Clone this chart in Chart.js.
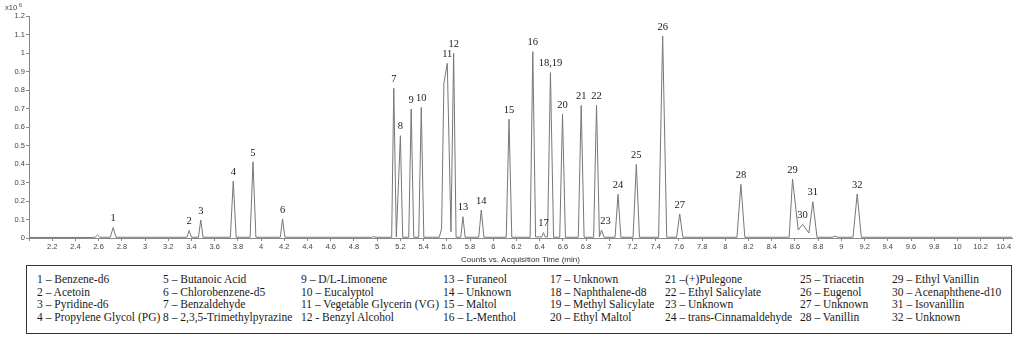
<!DOCTYPE html>
<html lang="en">
<head>
    <meta charset="UTF-8">
    <title>Chromatogram</title>
    <style>
        body { margin: 0; background: #fff; }
        .page { position: relative; width: 1024px; height: 337px; overflow: hidden; }
        .chart-box { position: absolute; left: 0; top: 0; width: 1024px; height: 265px; }
        .legend-frame {
            position: absolute;
            left: 26px; top: 265px;
            width: 986px; height: 69px;
            box-sizing: border-box;
            border: 1.5px solid #333;
        }
        .legend-item {
            position: absolute;
            font-family: 'Liberation Serif', serif;
            font-size: 11.5px;
            line-height: 12.6px;
            color: #1a1a1a;
            white-space: nowrap;
        }
    </style>
</head>
<body>

<div class="page">
    <div class="chart-box"><canvas id="chrom"></canvas></div>
    <div class="legend-frame"></div>
    <div id="legend"></div>
</div>

<script src="https://cdn.jsdelivr.net/npm/chart.js"></script>
<script>
    // trace: time (min) and counts (x10^6)
    const traceTime = [
        2.00, 2.55, 2.57, 2.59, 2.61,
        2.70, 2.725, 2.75,
        3.36, 3.38, 3.40,
        3.46, 3.48, 3.50,
        3.735, 3.76, 3.785,
        3.905, 3.93, 3.955,
        4.165, 4.185, 4.205,
        4.95, 4.97, 4.99,
        5.125, 5.143, 5.165,
        5.20, 5.22,
        5.272, 5.293, 5.315,
        5.358, 5.38, 5.402,
        5.535, 5.555, 5.575, 5.604, 5.636,
        5.659, 5.68,
        5.72, 5.739, 5.758,
        5.875, 5.897, 5.92,
        6.112, 6.136, 6.16,
        6.318, 6.341, 6.365,
        6.418, 6.433, 6.448,
        6.468, 6.493, 6.52,
        6.573, 6.597, 6.622,
        6.733, 6.758, 6.783,
        6.865, 6.89, 6.915,
        6.933, 6.955,
        7.05, 7.075, 7.10,
        7.205, 7.233, 7.26,
        7.425, 7.46, 7.495,
        7.58, 7.607, 7.634,
        8.10, 8.134, 8.168,
        8.55, 8.579, 8.628,
        8.665, 8.72,
        8.754, 8.79,
        8.92, 8.946, 8.97,
        9.10, 9.136, 9.172,
        10.47
    ];
    const traceCounts = [
        0.003, 0.003, 0.004, 0.016, 0.004,
        0.004, 0.056, 0.004,
        0.004, 0.040, 0.004,
        0.004, 0.097, 0.004,
        0.004, 0.308, 0.004,
        0.004, 0.412, 0.004,
        0.004, 0.103, 0.004,
        0.004, 0.008, 0.004,
        0.004, 0.809, 0.006,
        0.553, 0.004,
        0.004, 0.697, 0.004,
        0.004, 0.706, 0.004,
        0.004, 0.050, 0.836, 0.944, 0.034,
        0.998, 0.004,
        0.004, 0.115, 0.004,
        0.004, 0.151, 0.004,
        0.004, 0.642, 0.004,
        0.004, 1.007, 0.006,
        0.006, 0.029, 0.006,
        0.006, 0.894, 0.004,
        0.004, 0.670, 0.004,
        0.004, 0.717, 0.004,
        0.004, 0.717, 0.006,
        0.043, 0.004,
        0.004, 0.236, 0.004,
        0.004, 0.398, 0.004,
        0.004, 1.092, 0.004,
        0.004, 0.130, 0.004,
        0.004, 0.290, 0.004,
        0.004, 0.319, 0.043,
        0.074, 0.027,
        0.196, 0.004,
        0.004, 0.010, 0.004,
        0.004, 0.238, 0.004,
        0.004
    ];

    // peak numbers and where their apex sits
    const peakLabels = ['1', '2', '3', '4', '5', '6', '7', '8', '9', '10', '11', '12', '13', '14', '15', '16',
        '17', '18,19', '20', '21', '22', '23', '24', '25', '26', '27', '28', '29', '30', '31', '32'];
    const peakTimes = [2.725, 3.38, 3.48, 3.76, 3.93, 4.185, 5.143, 5.20, 5.293, 5.38, 5.604, 5.659, 5.739, 5.897, 6.136, 6.341,
        6.433, 6.493, 6.597, 6.758, 6.89, 6.933, 7.075, 7.233, 7.46, 7.607, 8.134, 8.579, 8.665, 8.754, 9.136];
    const peakHeights = [0.056, 0.040, 0.097, 0.308, 0.412, 0.103, 0.809, 0.553, 0.697, 0.706, 0.944, 0.998, 0.115, 0.151, 0.642, 1.007,
        0.029, 0.894, 0.670, 0.717, 0.717, 0.043, 0.236, 0.398, 1.092, 0.130, 0.290, 0.319, 0.074, 0.196, 0.238];

    const legendNames = [
        '1 – Benzene-d6', '2 – Acetoin', '3 – Pyridine-d6', '4 – Propylene Glycol (PG)',
        '5 – Butanoic Acid', '6 – Chlorobenzene-d5', '7 – Benzaldehyde', '8 – 2,3,5-Trimethylpyrazine',
        '9 – D/L-Limonene', '10 – Eucalyptol', '11 – Vegetable Glycerin (VG)', '12 - Benzyl Alcohol',
        '13 – Furaneol', '14 – Unknown', '15 – Maltol', '16 – L-Menthol',
        '17 – Unknown', '18 – Naphthalene-d8', '19 – Methyl Salicylate', '20 – Ethyl Maltol',
        '21 –(+)Pulegone', '22 – Ethyl Salicylate', '23 – Unknown', '24 – trans-Cinnamaldehyde',
        '25 – Triacetin', '26 – Eugenol', '27 – Unknown', '28 – Vanillin',
        '29 – Ethyl Vanillin', '30 – Acenaphthene-d10', '31 – Isovanillin', '32 – Unknown'
    ];

    const legendColX = [37, 163, 301, 443, 550, 665, 800, 892];
    const legendRowY = [273, 285.5, 298, 310.5];

    // legend table below the plot
    const legendEl = document.getElementById('legend');
    legendNames.forEach((name, i) => {
        const span = document.createElement('div');
        span.className = 'legend-item';
        span.textContent = name;
        span.style.left = legendColX[Math.floor(i / 4)] + 'px';
        span.style.top = legendRowY[i % 4] + 'px';
        legendEl.appendChild(span);
    });

    const labelNudge = { '23': 4 };

    const peakLabelPlugin = {
        id: 'peakLabels',
        afterDatasetsDraw(chart) {
            const ctx = chart.ctx;
            const xs = chart.scales.x, ys = chart.scales.y;
            ctx.save();
            ctx.font = '10.5px "Liberation Serif", serif';
            ctx.fillStyle = '#1a1a1a';
            ctx.textAlign = 'center';
            ctx.textBaseline = 'middle';
            peakLabels.forEach((lab, i) => {
                const x = xs.getPixelForValue(peakTimes[i]) + (labelNudge[lab] || 0);
                const y = ys.getPixelForValue(peakHeights[i]) - 9;
                ctx.fillText(lab, x, y);
            });
            // exponent label in the corner
            ctx.font = '7.5px "Liberation Sans", sans-serif';
            ctx.fillStyle = '#444';
            ctx.textAlign = 'left';
            ctx.fillText('x10', 5, 8);
            ctx.font = '5.5px "Liberation Sans", sans-serif';
            ctx.fillText('6', 19, 5);
            ctx.restore();
        }
    };

    const tickFont = { family: '"Liberation Sans", sans-serif', size: 7.5 };

    new Chart(document.getElementById('chrom'), {
        type: 'line',
        data: {
            datasets: [{
                data: traceTime.map((t, i) => ({ x: t, y: traceCounts[i] })),
                borderColor: '#777',
                borderWidth: 1,
                pointRadius: 0,
                tension: 0,
                fill: false
            }]
        },
        options: {
            responsive: true,
            maintainAspectRatio: false,
            animation: false,
            layout: { padding: { left: 0, right: 12, top: 16, bottom: 0 } },
            plugins: { legend: { display: false }, tooltip: { enabled: false } },
            scales: {
                x: {
                    type: 'linear',
                    min: 2,
                    max: 10.47,
                    afterFit: s => { s.height = 27; },
                    border: { color: '#888', width: 1 },
                    grid: { drawOnChartArea: false, drawTicks: true, tickLength: 3, color: '#888' },
                    ticks: {
                        stepSize: 0.2,
                        includeBounds: false,
                        autoSkip: false,
                        maxRotation: 0,
                        padding: 1,
                        color: '#444',
                        font: tickFont,
                        callback: v => (Math.abs(v - 2) < 1e-6 ? '' : String(+v.toFixed(1)))
                    },
                    title: {
                        display: true,
                        text: 'Counts vs. Acquisition Time (min)',
                        color: '#333',
                        font: { family: '"Liberation Sans", sans-serif', size: 8 },
                        padding: { top: 0, bottom: 0 }
                    }
                },
                y: {
                    min: 0,
                    max: 1.2,
                    afterFit: s => { s.width = 29; },
                    border: { color: '#888', width: 1 },
                    grid: { drawOnChartArea: false, drawTicks: true, tickLength: 3, color: '#888' },
                    ticks: {
                        stepSize: 0.1,
                        padding: 1,
                        color: '#444',
                        font: tickFont,
                        callback: v => String(+v.toFixed(1))
                    }
                }
            }
        },
        plugins: [peakLabelPlugin]
    });
</script>

</body>
</html>
